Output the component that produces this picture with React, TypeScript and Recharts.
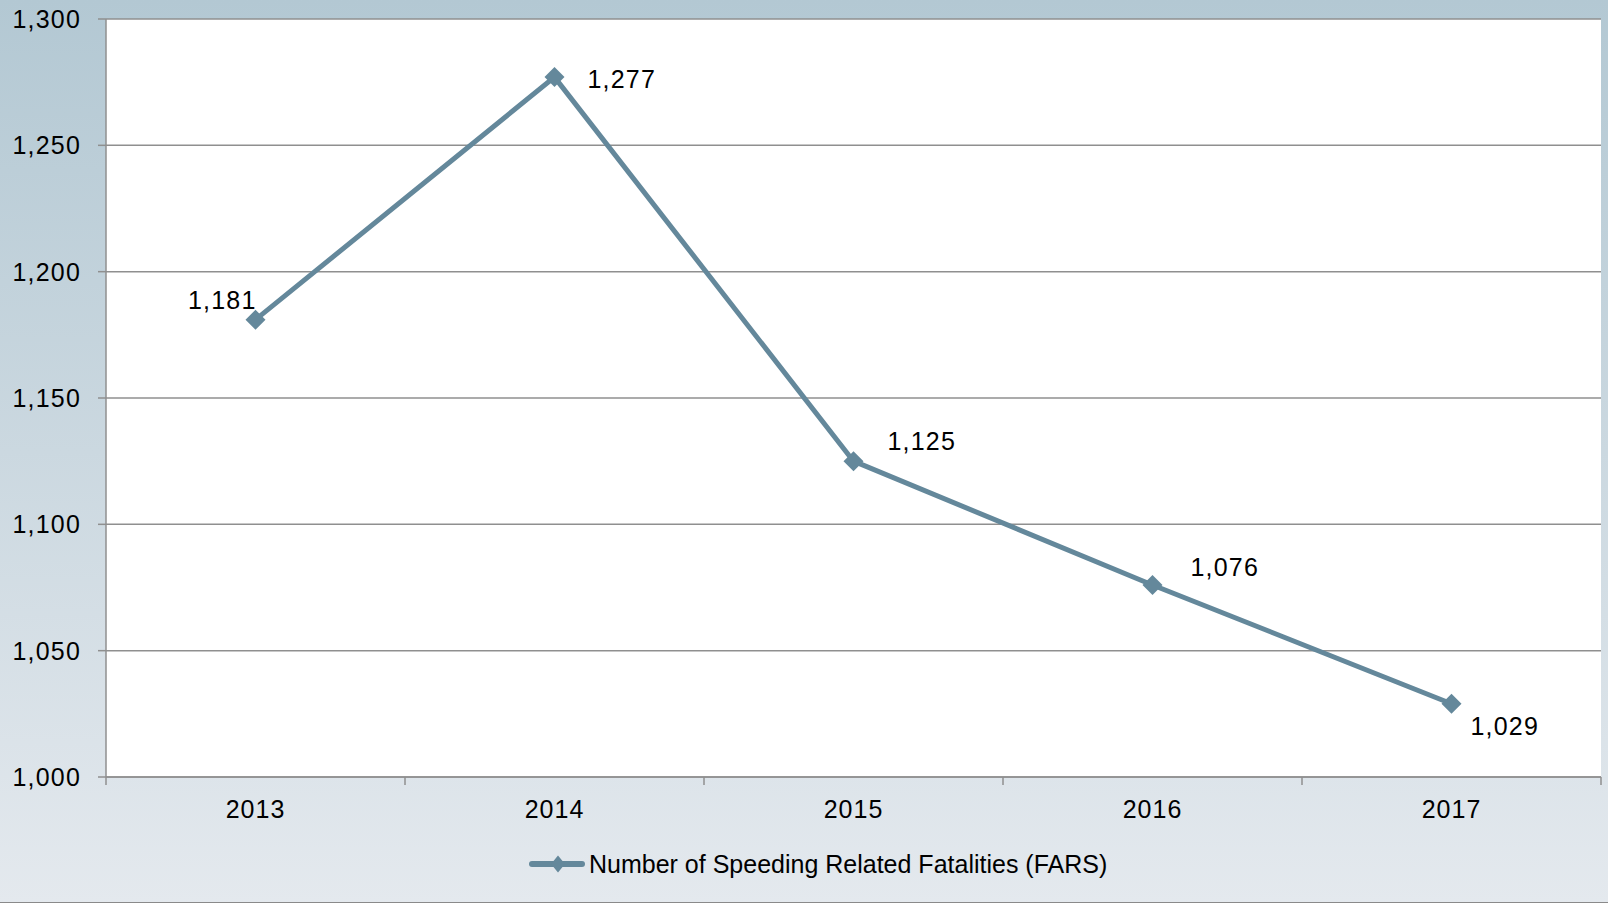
import React from 'react';
import { LineChart, Line, XAxis, YAxis, CartesianGrid, Legend, LabelList } from 'recharts';

const years = ['2013', '2014', '2015', '2016', '2017'];
const fatalities = [1181, 1277, 1125, 1076, 1029];
const yTicks = [1000, 1050, 1100, 1150, 1200, 1250, 1300];
const seriesName = 'Number of Speeding Related Fatalities (FARS)';

const data = years.map((year, i) => ({ year, value: fatalities[i] }));

const W = 1608;
const H = 903;
const Y_AXIS_W = 106;
const RIGHT = 7;
const BAND = (W - Y_AXIS_W - RIGHT) / years.length;
const LINE_COLOR = '#64889b';
const GRID = '#8f8f8f';
const FONT = '"Liberation Sans", Arial, sans-serif';

// where each value label sits relative to its point
const labelPlacement = [
  { dx: 1, dy: -20, anchor: 'end' },
  { dx: 33, dy: 2, anchor: 'start' },
  { dx: 34, dy: -20, anchor: 'start' },
  { dx: 38, dy: -18, anchor: 'start' },
  { dx: 19, dy: 22, anchor: 'start' },
];

const fmt = (v: number) => v.toLocaleString('en-US');

const Diamond = ({ cx, cy, r, ry }: { cx: number; cy: number; r: number; ry?: number }) => {
  const v = ry ?? r;
  return <path d={`M${cx},${cy - v}L${cx + r},${cy}L${cx},${cy + v}L${cx - r},${cy}Z`} fill={LINE_COLOR} />;
};

const XTick = (props: any) => {
  const { x, y, payload, index } = props;
  const last = index === years.length - 1;
  return (
    <g>
      <line x1={x - BAND / 2} x2={x - BAND / 2} y1={y} y2={y + 8} stroke={GRID} strokeWidth={1.5} />
      {last && <line x1={x + BAND / 2} x2={x + BAND / 2} y1={y} y2={y + 8} stroke={GRID} strokeWidth={1.5} />}
      <text x={x} y={y + 32} textAnchor="middle" dominantBaseline="central" fontSize={25} letterSpacing={1} fontFamily={FONT} fill="#000">
        {payload.value}
      </text>
    </g>
  );
};

const ValueLabel = (props: any) => {
  const { x, y, value, index } = props;
  const p = labelPlacement[index];
  return (
    <text x={x + p.dx} y={y + p.dy} textAnchor={p.anchor} dominantBaseline="central" fontSize={25} letterSpacing={1.2} fontFamily={FONT} fill="#000">
      {fmt(value)}
    </text>
  );
};

const LegendContent = () => (
  <div style={{ display: 'flex', alignItems: 'center', marginLeft: 529, marginTop: 12, height: 30, whiteSpace: 'nowrap' }}>
    <svg width={60} height={20} style={{ flex: 'none' }}>
      <line x1={3} x2={53} y1={10} y2={10} stroke={LINE_COLOR} strokeWidth={6} strokeLinecap="round" />
      <Diamond cx={29} cy={10} r={7} ry={8.5} />
    </svg>
    <span style={{ fontFamily: FONT, fontSize: 25, color: '#000' }}>{seriesName}</span>
  </div>
);

export default function App() {
  return (
    <div
      style={{
        position: 'fixed',
        left: 0,
        top: 0,
        width: W,
        height: H,
        background: 'linear-gradient(to bottom, #b3c8d3 0%, #cbd8e0 50%, #e4e9ee 100%)',
      }}
    >
      <LineChart width={W} height={H} data={data} margin={{ top: 19, right: RIGHT, left: 0, bottom: 0 }}>
        <CartesianGrid vertical={false} stroke={GRID} strokeWidth={1.5} fill="#ffffff" fillOpacity={1} />
        <XAxis
          dataKey="year"
          height={60}
          tickSize={0}
          tickMargin={0}
          tick={<XTick />}
          axisLine={{ stroke: GRID, strokeWidth: 1.5 }}
          padding={{ left: BAND / 2, right: BAND / 2 }}
          interval={0}
        />
        <YAxis
          width={Y_AXIS_W}
          domain={[1000, 1300]}
          ticks={yTicks}
          tickFormatter={fmt}
          tickSize={8}
          tickMargin={17}
          tickLine={{ stroke: GRID, strokeWidth: 1.5 }}
          axisLine={{ stroke: GRID, strokeWidth: 1.5 }}
          tick={{ fontSize: 25, fontFamily: FONT, fill: '#000', letterSpacing: 1.2 }}
          interval={0}
        />
        <Legend verticalAlign="bottom" height={66} content={<LegendContent />} />
        <Line
          type="linear"
          dataKey="value"
          name={seriesName}
          stroke={LINE_COLOR}
          strokeWidth={5}
          isAnimationActive={false}
          dot={(p: any) => <Diamond key={`d-${p.index}`} cx={p.cx} cy={p.cy} r={10} />}
          activeDot={false}
        >
          <LabelList dataKey="value" content={<ValueLabel />} />
        </Line>
      </LineChart>
      <div style={{ position: 'absolute', left: 0, top: H - 1, width: W, height: 1, background: '#8a8a8a' }} />
    </div>
  );
}
